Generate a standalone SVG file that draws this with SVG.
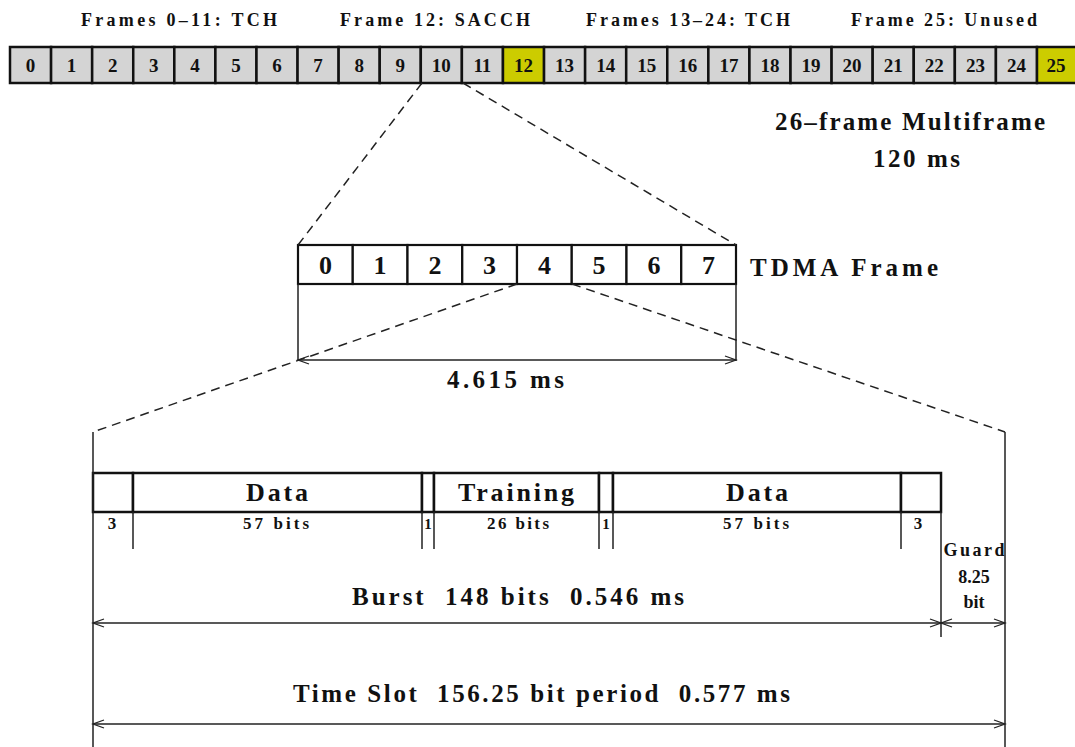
<svg xmlns="http://www.w3.org/2000/svg" width="1075" height="747" viewBox="0 0 1075 747">
<style>
text{font-family:"Liberation Serif","Times New Roman",serif;font-weight:bold;fill:#111}
.mf{fill:#d4d4d4;stroke:#111;stroke-width:2.5}
.hl{fill:#cccc00;stroke:#111;stroke-width:2.5}
.td{fill:#fff;stroke:#111;stroke-width:2.2}
.bx{fill:#fff;stroke:#111;stroke-width:2.5}
.n1{font-size:19px;text-anchor:middle}
.n2{font-size:26px;text-anchor:middle}
.lab{font-size:18px}
.big{font-size:25px}
.pre{white-space:pre}
.fld{font-size:26px;text-anchor:middle}
.sm{font-size:17px;text-anchor:middle}
.gd{font-size:18px;text-anchor:middle}
.dash{fill:none;stroke:#222;stroke-width:1.5;stroke-dasharray:9 6}
.ln{fill:none;stroke:#222;stroke-width:1.5}
.dim{fill:none;stroke:#222;stroke-width:1.5;marker-start:url(#ah);marker-end:url(#ah)}
</style>
<defs>
<marker id="ah" viewBox="-12 -6 14 12" markerWidth="14" markerHeight="12" refX="0" refY="0" orient="auto-start-reverse" markerUnits="userSpaceOnUse">
<path d="M-11,-4 L0,0 L-11,4" fill="none" stroke="#222" stroke-width="1.3"/>
</marker>
</defs>
<rect width="1075" height="747" fill="#fff"/>

<g id="labels-top">
<text class="lab" x="81" y="26" textLength="196" lengthAdjust="spacing">Frames 0–11: TCH</text>
<text class="lab" x="340" y="26" textLength="190" lengthAdjust="spacing">Frame 12: SACCH</text>
<text class="lab" x="586" y="26" textLength="204" lengthAdjust="spacing">Frames 13–24: TCH</text>
<text class="lab" x="851" y="26" textLength="186" lengthAdjust="spacing">Frame 25: Unused</text>
</g>

<g id="multiframe">
<g id="mf0"><rect class="mf" x="10" y="47" width="41.08" height="36"/><text class="n1" x="30.5" y="72">0</text></g>
<g id="mf1"><rect class="mf" x="51.08" y="47" width="41.08" height="36"/><text class="n1" x="71.6" y="72">1</text></g>
<g id="mf2"><rect class="mf" x="92.16" y="47" width="41.08" height="36"/><text class="n1" x="112.7" y="72">2</text></g>
<g id="mf3"><rect class="mf" x="133.24" y="47" width="41.08" height="36"/><text class="n1" x="153.8" y="72">3</text></g>
<g id="mf4"><rect class="mf" x="174.32" y="47" width="41.08" height="36"/><text class="n1" x="194.9" y="72">4</text></g>
<g id="mf5"><rect class="mf" x="215.4" y="47" width="41.08" height="36"/><text class="n1" x="235.9" y="72">5</text></g>
<g id="mf6"><rect class="mf" x="256.48" y="47" width="41.08" height="36"/><text class="n1" x="277" y="72">6</text></g>
<g id="mf7"><rect class="mf" x="297.56" y="47" width="41.08" height="36"/><text class="n1" x="318.1" y="72">7</text></g>
<g id="mf8"><rect class="mf" x="338.64" y="47" width="41.08" height="36"/><text class="n1" x="359.2" y="72">8</text></g>
<g id="mf9"><rect class="mf" x="379.72" y="47" width="41.08" height="36"/><text class="n1" x="400.3" y="72">9</text></g>
<g id="mf10"><rect class="mf" x="420.8" y="47" width="41.08" height="36"/><text class="n1" x="441.3" y="72">10</text></g>
<g id="mf11"><rect class="mf" x="461.88" y="47" width="41.08" height="36"/><text class="n1" x="482.4" y="72">11</text></g>
<g id="mf12"><rect class="hl" x="502.96" y="47" width="41.08" height="36"/><text class="n1" x="523.5" y="72">12</text></g>
<g id="mf13"><rect class="mf" x="544.04" y="47" width="41.08" height="36"/><text class="n1" x="564.6" y="72">13</text></g>
<g id="mf14"><rect class="mf" x="585.12" y="47" width="41.08" height="36"/><text class="n1" x="605.7" y="72">14</text></g>
<g id="mf15"><rect class="mf" x="626.2" y="47" width="41.08" height="36"/><text class="n1" x="646.7" y="72">15</text></g>
<g id="mf16"><rect class="mf" x="667.28" y="47" width="41.08" height="36"/><text class="n1" x="687.8" y="72">16</text></g>
<g id="mf17"><rect class="mf" x="708.36" y="47" width="41.08" height="36"/><text class="n1" x="728.9" y="72">17</text></g>
<g id="mf18"><rect class="mf" x="749.44" y="47" width="41.08" height="36"/><text class="n1" x="770" y="72">18</text></g>
<g id="mf19"><rect class="mf" x="790.52" y="47" width="41.08" height="36"/><text class="n1" x="811.1" y="72">19</text></g>
<g id="mf20"><rect class="mf" x="831.6" y="47" width="41.08" height="36"/><text class="n1" x="852.1" y="72">20</text></g>
<g id="mf21"><rect class="mf" x="872.68" y="47" width="41.08" height="36"/><text class="n1" x="893.2" y="72">21</text></g>
<g id="mf22"><rect class="mf" x="913.76" y="47" width="41.08" height="36"/><text class="n1" x="934.3" y="72">22</text></g>
<g id="mf23"><rect class="mf" x="954.84" y="47" width="41.08" height="36"/><text class="n1" x="975.4" y="72">23</text></g>
<g id="mf24"><rect class="mf" x="995.92" y="47" width="41.08" height="36"/><text class="n1" x="1016.5" y="72">24</text></g>
<g id="mf25"><rect class="hl" x="1037" y="47" width="41.08" height="36"/><text class="n1" x="1056" y="72">25</text></g>
</g>

<g id="multiframe-caption">
<text class="big" x="775" y="130" textLength="270" lengthAdjust="spacing">26–frame Multiframe</text>
<text class="big" x="873" y="167" textLength="87" lengthAdjust="spacing">120 ms</text>
</g>

<g id="tdma">
<g id="ts0"><rect class="td" x="298" y="245" width="54.75" height="39"/><text class="n2" x="325.4" y="274">0</text></g>
<g id="ts1"><rect class="td" x="352.75" y="245" width="54.75" height="39"/><text class="n2" x="380.1" y="274">1</text></g>
<g id="ts2"><rect class="td" x="407.5" y="245" width="54.75" height="39"/><text class="n2" x="434.9" y="274">2</text></g>
<g id="ts3"><rect class="td" x="462.25" y="245" width="54.75" height="39"/><text class="n2" x="489.6" y="274">3</text></g>
<g id="ts4"><rect class="td" x="517" y="245" width="54.75" height="39"/><text class="n2" x="544.4" y="274">4</text></g>
<g id="ts5"><rect class="td" x="571.75" y="245" width="54.75" height="39"/><text class="n2" x="599.1" y="274">5</text></g>
<g id="ts6"><rect class="td" x="626.5" y="245" width="54.75" height="39"/><text class="n2" x="653.9" y="274">6</text></g>
<g id="ts7"><rect class="td" x="681.25" y="245" width="54.75" height="39"/><text class="n2" x="708.6" y="274">7</text></g>
<text class="big" x="750" y="276" textLength="188" lengthAdjust="spacing">TDMA Frame</text>
<text class="big" x="447" y="388" textLength="117" lengthAdjust="spacing">4.615 ms</text>
</g>

<g id="burst">
<g id="f0"><rect class="bx" x="93" y="473" width="40" height="39"/><text class="sm" x="112" y="529">3</text></g>
<g id="f1"><rect class="bx" x="133" y="473" width="289" height="39"/><text class="fld" x="277" y="501" textLength="62" lengthAdjust="spacing">Data</text><text class="sm" x="276" y="529" textLength="66" lengthAdjust="spacing">57 bits</text></g>
<g id="f2"><rect class="bx" x="422" y="473" width="12" height="39"/><text class="sm" x="428" y="529" style="font-size:15px">1</text></g>
<g id="f3"><rect class="bx" x="434" y="473" width="165" height="39"/><text class="fld" x="516" y="501" textLength="116" lengthAdjust="spacing">Training</text><text class="sm" x="518" y="529" textLength="62" lengthAdjust="spacing">26 bits</text></g>
<g id="f4"><rect class="bx" x="599" y="473" width="14" height="39"/><text class="sm" x="606" y="529" style="font-size:15px">1</text></g>
<g id="f5"><rect class="bx" x="613" y="473" width="288" height="39"/><text class="fld" x="757" y="501" textLength="62" lengthAdjust="spacing">Data</text><text class="sm" x="756" y="529" textLength="66" lengthAdjust="spacing">57 bits</text></g>
<g id="f6"><rect class="bx" x="901" y="473" width="40" height="39"/><text class="sm" x="918" y="529">3</text></g>
<g id="guard"><text class="gd" x="974" y="556" textLength="61" lengthAdjust="spacing">Guard</text><text class="gd" x="974" y="583">8.25</text><text class="gd" x="974" y="608">bit</text></g>
<text class="big pre" x="352" y="605" textLength="332" lengthAdjust="spacing">Burst  148 bits  0.546 ms</text>
<text class="big pre" x="293" y="702" textLength="497" lengthAdjust="spacing">Time Slot  156.25 bit period  0.577 ms</text>
</g>

<g id="connectors">
<path class="dash" d="M422,83 L298,245"/>
<path class="dash" d="M463,83 L736,245"/>
<path class="dash" d="M517,284 L93,432"/>
<path class="dash" d="M572,284 L1005,432"/>
<path class="ln" d="M298,284 V361 M736,284 V361"/>
<path class="ln" d="M93,432 V747 M1005,432 V747"/>
<path class="ln" d="M133,512 V549 M422,512 V549 M434,512 V549 M599,512 V549 M613,512 V549 M901,512 V549 M941,512 V637"/>
<path class="dim" d="M298,360 H736"/>
<path class="dim" d="M93,623 H941"/>
<path class="dim" d="M941,623 H1005"/>
<path class="dim" d="M93,724 H1005"/>
</g>
</svg>
